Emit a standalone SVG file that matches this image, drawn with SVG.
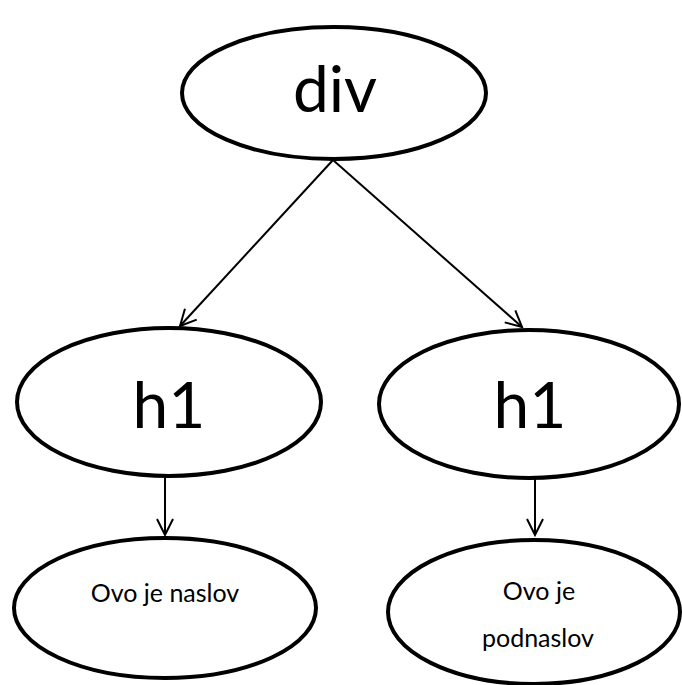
<svg xmlns="http://www.w3.org/2000/svg" width="682" height="685" viewBox="0 0 682 685">
<defs>
<marker id="arr" viewBox="0 0 20 20" refX="18" refY="10" markerWidth="20" markerHeight="20" markerUnits="userSpaceOnUse" orient="auto">
<path d="M2,2 L18,10 L2,18" fill="none" stroke="#000" stroke-width="2"/>
</marker>
<style>
.n{fill:#fff;stroke:#000;stroke-width:4}
.t{font-family:Lato,"Liberation Sans",sans-serif;fill:#000;text-anchor:middle}
.big{font-size:64px}
.small{font-size:25px}
.c{stroke:#000;stroke-width:2;fill:none;marker-end:url(#arr)}
</style>
</defs>
<rect width="682" height="685" fill="#fff"/>
<g id="connectors">
<line class="c" x1="333" y1="160" x2="180" y2="326"/>
<line class="c" x1="333" y1="160" x2="522" y2="327"/>
<line class="c" x1="165" y1="477" x2="165" y2="535"/>
<line class="c" x1="535" y1="478" x2="535" y2="535"/>
</g>
<g id="div">
<ellipse class="n" cx="334" cy="93" rx="152" ry="66"/>
<text class="t big" x="335" y="112">div</text>
</g>
<g id="h1-left">
<ellipse class="n" cx="169" cy="402" rx="152" ry="74"/>
<text class="t big" x="169" y="428">h1</text>
</g>
<g id="h1-right">
<ellipse class="n" cx="529" cy="404" rx="150" ry="74"/>
<text class="t big" x="530" y="428">h1</text>
</g>
<g id="naslov">
<ellipse class="n" cx="165" cy="608" rx="151" ry="70"/>
<text class="t small" x="165" y="602">Ovo je naslov</text>
</g>
<g id="podnaslov">
<ellipse class="n" cx="534" cy="612" rx="146" ry="72"/>
<text class="t small" x="539" y="600">Ovo je</text>
<text class="t small" x="538" y="647">podnaslov</text>
</g>
</svg>
